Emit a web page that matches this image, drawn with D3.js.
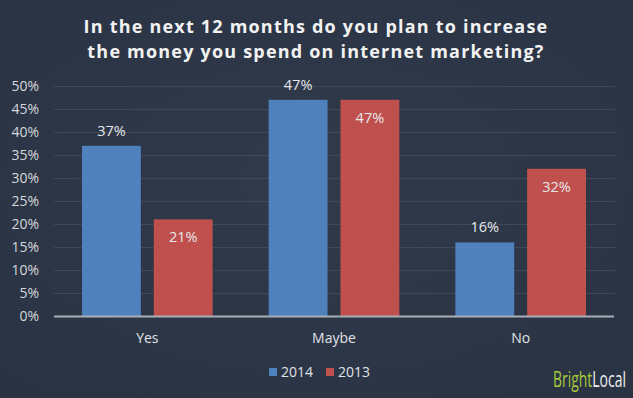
<!DOCTYPE html>
<html><head><meta charset="utf-8">
<script src="https://cdn.jsdelivr.net/npm/d3@7"></script>
<style>
html,body{margin:0;padding:0;background:#2c3546;}
svg{display:block;}
</style></head>
<body>
<svg id="chart" width="633" height="398"></svg>
<script>
const categories = ["Yes", "Maybe", "No"];
const seriesNames = ["2014", "2013"];
const values2014 = [37, 47, 16];
const values2013 = [21, 47, 32];
const yTicks = [0, 5, 10, 15, 20, 25, 30, 35, 40, 45, 50];
const titleLines = ["In the next 12 months do you plan to increase", "the money you spend on internet marketing?"];
const brandParts = ["Bright", "Local"];
const colors = ["#4f81bd", "#c0504d"];

const W = 633, H = 398;
const svg = d3.select("#chart");
const defs = svg.append("defs");
const rg = defs.append("radialGradient").attr("id","bg").attr("cx","50%").attr("cy","45%").attr("r","70%");
rg.append("stop").attr("offset","0%").attr("stop-color","#303a4b");
rg.append("stop").attr("offset","100%").attr("stop-color","#2a3343");
svg.append("rect").attr("width",W).attr("height",H).attr("fill","url(#bg)");

// title
svg.append("g").selectAll("text").data(titleLines).join("text")
  .attr("x", 316).attr("y", (d,i)=>33+i*25)
  .attr("text-anchor","middle")
  .attr("fill","#f2f2f2")
  .style("font-family","'Open Sans', sans-serif")
  .style("font-weight","700")
  .style("font-size","18px")
  .style("letter-spacing","1.2px")
  .text(d=>d);

const pLeft = 54, pRight = 614, pTop = 86, pBottom = 316;
const x0 = d3.scaleBand().domain(categories).range([pLeft,pRight]).paddingInner(0.3).paddingOuter(0.15);
const x1 = d3.scaleBand().domain(seriesNames).range([0,x0.bandwidth()]).paddingInner(0.18);
const y = d3.scaleLinear().domain([0,50]).range([pBottom,pTop]);

// gridlines
svg.append("g").selectAll("line").data(yTicks.slice(1)).join("line")
  .attr("x1",pLeft).attr("x2",pRight+1)
  .attr("y1",d=>y(d)+0.5).attr("y2",d=>y(d)+0.5)
  .attr("stroke","#3e4858").attr("stroke-width",1);

// y axis labels
const yAxis = d3.axisLeft(y).tickValues(yTicks).tickFormat(d=>d+"%").tickSize(0).tickPadding(0);
const ya = svg.append("g").attr("transform",`translate(39,0)`).call(yAxis);
ya.select(".domain").remove();
ya.selectAll("text").attr("fill","#d4d7dc")
  .style("font-family","'Open Sans', sans-serif").style("font-size","14px");

// bars
const data = categories.map((c,i)=>({cat:c, vals:[{s:"2014",v:values2014[i]},{s:"2013",v:values2013[i]}]}));
const groups = svg.append("g").selectAll("g").data(data).join("g")
  .attr("transform",d=>`translate(${x0(d.cat)},0)`);
groups.selectAll("rect").data(d=>d.vals).join("rect")
  .attr("x",d=>x1(d.s)).attr("width",x1.bandwidth())
  .attr("y",d=>y(d.v)).attr("height",d=>pBottom-y(d.v))
  .attr("fill",(d,i)=>colors[i]);
groups.selectAll("text").data(d=>d.vals).join("text")
  .attr("x",d=>x1(d.s)+x1.bandwidth()/2)
  .attr("y",d=>d.s==="2014" ? y(d.v)-10 : y(d.v)+23)
  .attr("text-anchor","middle")
  .attr("fill","#e6e8eb")
  .style("font-family","'Open Sans', sans-serif").style("font-size","14.5px")
  .text(d=>d.v+"%");

// x axis line
svg.append("line").attr("x1",pLeft).attr("x2",pRight).attr("y1",pBottom+0.5).attr("y2",pBottom+0.5)
  .attr("stroke","#a9afb8").attr("stroke-width",2);
const xAxis = d3.axisBottom(x0).tickSize(0).tickPadding(0);
const xa = svg.append("g").attr("transform",`translate(0,${pBottom+27})`).call(xAxis);
xa.select(".domain").remove();
xa.selectAll("text").attr("fill","#e0e3e7").attr("dy","0")
  .style("font-family","'Open Sans', sans-serif").style("font-size","14px");

// legend
const legend = svg.append("g").attr("transform","translate(269,368)");
const li = legend.selectAll("g").data(seriesNames).join("g")
  .attr("transform",(d,i)=>`translate(${i*57},0)`);
li.append("rect").attr("width",8).attr("height",8).attr("fill",(d,i)=>colors[i]);
li.append("text").attr("x",12).attr("y",9).attr("fill","#e0e3e7")
  .style("font-family","'Open Sans', sans-serif").style("font-size","14px").text(d=>d);

// brand: two texts, condensed by a horizontal scale
const bg = svg.append("g");
const t1 = bg.append("text").attr("x",0).attr("y",0).attr("fill","#a6c83a")
  .style("font-family","'Liberation Sans Narrow', 'Open Sans', sans-serif").style("font-size","21px").text(brandParts[0]);
const w1 = t1.node().getComputedTextLength();
const t2 = bg.append("text").attr("x",w1).attr("y",0).attr("fill","#f0f0f0")
  .style("font-family","'Liberation Sans Narrow', 'Open Sans', sans-serif").style("font-size","21px").text(brandParts[1]);
const wTot = w1 + t2.node().getComputedTextLength();
const sx = 73 / wTot;
bg.attr("transform",`translate(553,387) scale(${sx},1)`);
</script>
</body></html>
